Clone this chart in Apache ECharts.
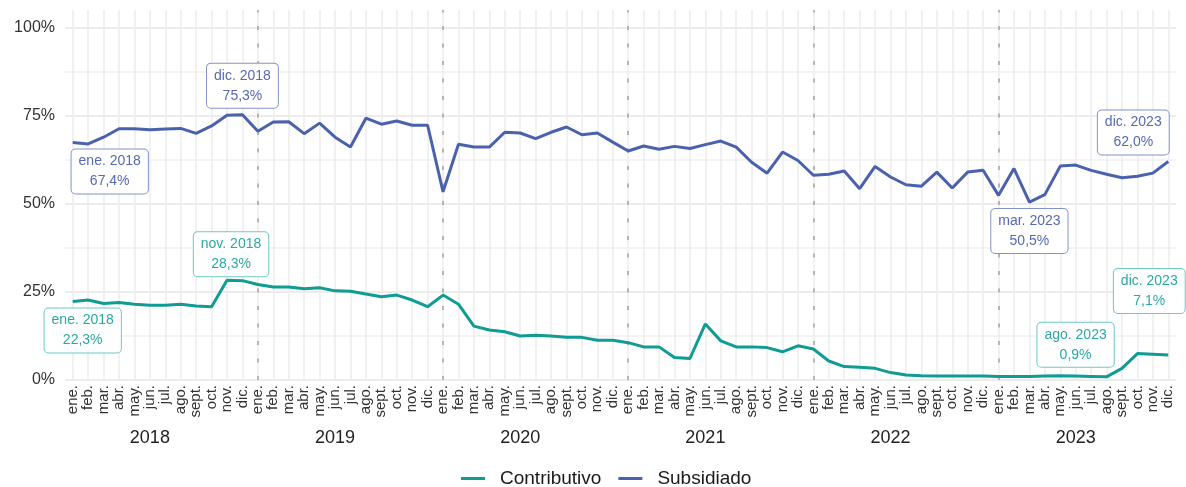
<!DOCTYPE html>
<html><head><meta charset="utf-8">
<script src="https://cdn.jsdelivr.net/npm/echarts@6/dist/echarts.min.js"></script>
<style>html,body{margin:0;padding:0;background:#fff}#c{width:1186px;height:487px}</style>
</head><body><div id="c"></div>
<script>
const years = ['2018','2019','2020','2021','2022','2023'];
const monthNames = ['ene.','feb.','mar.','abr.','may.','jun.','jul.','ago.','sept.','oct.','nov.','dic.'];
const contributivo = [
  22.3, 22.7, 21.7, 22.0, 21.5, 21.2, 21.2, 21.5, 21.0, 20.8, 28.3, 28.2,
  27.1, 26.4, 26.4, 25.9, 26.2, 25.3, 25.2, 24.4, 23.6, 24.1, 22.7, 20.8,
  24.1, 21.5, 15.3, 14.2, 13.7, 12.5, 12.7, 12.5, 12.1, 12.1, 11.3, 11.3,
  10.6, 9.4, 9.4, 6.4, 6.1, 15.9, 11.1, 9.4, 9.4, 9.2, 8.0, 9.7,
  8.8, 5.4, 3.8, 3.6, 3.3, 2.1, 1.4, 1.2, 1.1, 1.1, 1.1, 1.1,
  1.0, 1.0, 1.0, 1.1, 1.2, 1.1, 1.0, 0.9, 3.3, 7.5, 7.3, 7.1
];
const subsidiado = [
  67.4, 67.0, 68.9, 71.3, 71.3, 71.0, 71.2, 71.4, 70.0, 72.1, 75.1, 75.3,
  70.6, 73.2, 73.3, 69.9, 72.9, 68.9, 66.1, 74.3, 72.6, 73.5, 72.3, 72.3,
  53.4, 66.9, 66.1, 66.1, 70.3, 70.1, 68.5, 70.3, 71.8, 69.6, 70.1, 67.5,
  65.0, 66.4, 65.5, 66.3, 65.7, 66.8, 67.8, 66.1, 61.8, 58.7, 64.7, 62.3,
  58.1, 58.4, 59.3, 54.3, 60.6, 57.6, 55.4, 55.0, 59.0, 54.5, 59.0, 59.5,
  52.4, 60.0, 50.5, 52.6, 60.7, 61.0, 59.5, 58.4, 57.4, 57.8, 58.7, 62.0
];
const yTickStep = 25;
// indices of annotated months
const contribHighlights = [0, 10, 67, 71];
const subsHighlights = [0, 11, 62, 71];
// label box offsets (pixels) - styling
const contribOffsets = [[10, 29], [4, -26], [-31, -32], [-19, -64]];
const subsOffsets = [[37, 29], [0, -29], [0, 29], [-35, -29]];

const C_COL = '#0e9c94', S_COL = '#4a62ae';
const C_TXT = '#2aa9a2', S_TXT = '#5669b6';
const C_BRD = '#6cc9c3', S_BRD = '#8392cc';
const FONT = '"Liberation Sans", Arial, sans-serif';

const categories = [];
years.forEach(y => monthNames.forEach((m, i) => categories.push(y + '-' + String(i + 1).padStart(2, '0'))));
const monthOf = c => monthNames[parseInt(c.slice(5), 10) - 1];
const fmtPct = v => v.toFixed(1).replace('.', ',') + '%';

function marks(values, idxs, offs, txt, brd) {
  return {
    z: 6,
    symbol: 'circle', symbolSize: 1,
    itemStyle: { color: 'rgba(0,0,0,0)' },
    label: {
      show: true, position: 'inside', color: txt, fontSize: 14, lineHeight: 20, fontFamily: FONT,
      backgroundColor: '#fff', borderColor: brd, borderWidth: 1, borderRadius: 4, padding: [2, 7], align: 'center'
    },
    data: idxs.map((i, k) => ({
      coord: [categories[i], values[i]], value: values[i],
      label: { offset: offs[k], formatter: monthOf(categories[i]) + ' ' + categories[i].slice(0, 4) + '\n' + fmtPct(values[i]) }
    }))
  };
}

const chart = echarts.init(document.getElementById('c'));
chart.setOption({
  animation: false,
  textStyle: { fontFamily: FONT },
  grid: { left: 65, right: 10, top: 10, bottom: 107, containLabel: false },
  legend: {
    data: ['Contributivo', 'Subsidiado'], left: 456, top: 464,
    icon: 'path://M0,0 H24 V3 H0 Z',
    itemWidth: 24, itemHeight: 3, itemGap: 17,
    textStyle: { fontSize: 19, color: '#1a1a1a', padding: [0, 0, 0, 10], fontFamily: FONT }
  },
  xAxis: [
    {
      type: 'category', data: categories, boundaryGap: true,
      axisLine: { show: false }, axisTick: { show: false }, splitLine: { show: false },
      axisLabel: { interval: 0, rotate: 90, margin: 5, fontSize: 15, color: '#333', formatter: monthOf }
    },
    {
      type: 'category', data: categories, boundaryGap: true, position: 'bottom', offset: 41,
      axisLine: { show: false }, axisTick: { show: false }, splitLine: { show: false },
      axisLabel: { interval: (i) => i % 12 === 5, margin: 8, fontSize: 18, color: '#222', formatter: v => v.slice(0, 4) }
    }
  ],
  yAxis: {
    type: 'value', min: 0, max: 105, interval: yTickStep / 2,
    axisLine: { show: false }, axisTick: { show: false },
    axisLabel: { margin: 10, fontSize: 16, color: '#333', showMaxLabel: false,
      formatter: v => (v % yTickStep === 0 && v <= 100) ? v + '%' : '' },
    splitLine: { show: true, showMaxLine: false, lineStyle: { color: ['#e6e6e6', '#f0f0f0'], width: 1.5 } }
  },
  series: [
    {
      name: 'gridv', type: 'line', data: [], silent: true, z: 1,
      markLine: {
        z: 1, silent: true, symbol: 'none', animation: false, label: { show: false },
        lineStyle: { color: '#ececec', width: 1.5, type: 'solid' },
        data: categories.map(c => ({ xAxis: c }))
      }
    },
    {
      name: 'yearv', type: 'line', data: [], silent: true, z: 1,
      markLine: {
        z: 2, silent: true, symbol: 'none', animation: false, label: { show: false },
        lineStyle: { color: '#b5b5b5', width: 2, type: [4, 13.5] },
        data: categories.filter((c, i) => i > 0 && i % 12 === 0).map(c => ({ xAxis: c }))
      }
    },
    {
      name: 'Contributivo', type: 'line', data: contributivo, symbol: 'none', z: 3,
      lineStyle: { width: 3, color: C_COL }, itemStyle: { color: C_COL },
      markPoint: marks(contributivo, contribHighlights, contribOffsets, C_TXT, C_BRD)
    },
    {
      name: 'Subsidiado', type: 'line', data: subsidiado, symbol: 'none', z: 3,
      lineStyle: { width: 3, color: S_COL }, itemStyle: { color: S_COL },
      markPoint: marks(subsidiado, subsHighlights, subsOffsets, S_TXT, S_BRD)
    }
  ]
});
</script>
</body></html>
